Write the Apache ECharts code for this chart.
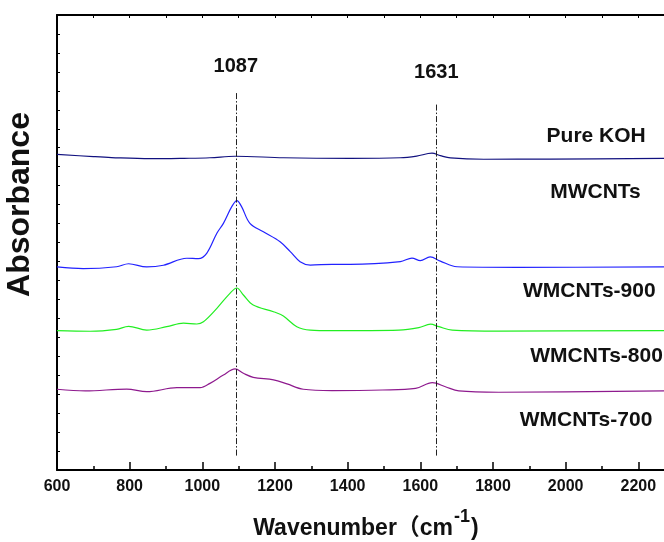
<!DOCTYPE html>
<html>
<head>
<meta charset="utf-8">
<script src="https://cdn.jsdelivr.net/npm/echarts@6/dist/echarts.min.js"></script>
<style>
html,body{margin:0;padding:0;background:#fff;}
#chart{width:664px;height:542px;}
</style>
</head>
<body>
<div id="chart"></div>
<script>
// ---- data ----
var seriesNames = ['Pure KOH', 'MWCNTs', 'WMCNTs-900', 'WMCNTs-800'];

var kohX = [600, 700, 750, 856, 950, 1021, 1090, 1224, 1407, 1545, 1590, 1632, 1655, 1683, 1775, 1958, 2280];
var kohY = [16.65, 16.53, 16.48, 16.42, 16.44, 16.47, 16.55, 16.47, 16.44, 16.47, 16.56, 16.71, 16.58, 16.46, 16.39, 16.40, 16.44];

var mwX = [600, 672, 764, 797, 847, 893, 957, 989, 1012, 1040, 1058, 1081, 1095, 1108, 1131, 1168, 1214, 1242, 1269, 1297, 1357, 1407, 1545, 1577, 1600, 1627, 1655, 1701, 1866, 2280];
var mwY = [10.71, 10.62, 10.72, 10.88, 10.71, 10.80, 11.17, 11.15, 11.43, 12.49, 13.01, 13.89, 14.21, 13.89, 13.01, 12.57, 12.04, 11.52, 10.99, 10.81, 10.85, 10.85, 10.99, 11.18, 11.04, 11.24, 11.02, 10.72, 10.69, 10.71];

var w900X = [600, 691, 764, 797, 847, 902, 948, 985, 1003, 1040, 1076, 1095, 1113, 1140, 1196, 1223, 1260, 1297, 1357, 1541, 1596, 1628, 1651, 1688, 1816, 2280];
var w900Y = [7.35, 7.32, 7.42, 7.58, 7.38, 7.56, 7.75, 7.70, 7.82, 8.53, 9.32, 9.60, 9.23, 8.70, 8.35, 8.12, 7.56, 7.38, 7.35, 7.38, 7.51, 7.69, 7.56, 7.38, 7.33, 7.35];

var w800X = [600, 678, 792, 847, 930, 994, 1021, 1058, 1090, 1113, 1140, 1196, 1233, 1278, 1357, 1495, 1587, 1633, 1669, 1706, 1816, 2280];
var w800Y = [4.26, 4.17, 4.27, 4.13, 4.34, 4.34, 4.57, 5.01, 5.33, 5.10, 4.89, 4.75, 4.54, 4.26, 4.19, 4.22, 4.31, 4.61, 4.39, 4.17, 4.10, 4.18];

// curve labels: text, x (wavenumber), y (absorbance units)
var curveLabels = ['Pure KOH', 'MWCNTs', 'WMCNTs-900', 'WMCNTs-800', 'WMCNTs-700'];
var curveLabelX = [2084, 2082, 2065, 2085, 2056];
var curveLabelY = [17.62, 14.64, 9.42, 6.01, 2.61];

// peak reference lines
var peakLineX = [1092, 1644];
var peakLabels = ['1087', '1631'];
var peakLineTop = [19.89, 19.36];
var peakLineBottom = [0.76, 0.76];
var peakLabelY = [21.31, 20.99];

var xTicks = [600, 800, 1000, 1200, 1400, 1600, 1800, 2000, 2200];

// ---- chart ----
function zip(xs, ys) { return xs.map(function (x, i) { return [x, ys[i]]; }); }

var colors = ['#11117f', '#2222ff', '#22ee22', '#8e1a8e'];
var xsAll = [kohX, mwX, w900X, w800X];
var ysAll = [kohY, mwY, w900Y, w800Y];

var series = seriesNames.map(function (n, i) {
  return {
    name: n, type: 'line', data: zip(xsAll[i], ysAll[i]),
    smooth: 0.35, showSymbol: false, symbol: 'none',
    lineStyle: { color: colors[i], width: 1.2 },
    xAxisIndex: 0, yAxisIndex: 0, z: 3
  };
});

var labelFont = { fontFamily: 'Liberation Sans, Arial, sans-serif', fontWeight: 'bold', color: '#111' };

series.push({
  name: 'annotations', type: 'scatter', data: [], symbolSize: 0,
  xAxisIndex: 0, yAxisIndex: 0,
  markLine: {
    silent: true, symbol: ['none', 'none'],
    lineStyle: { color: '#222', width: 1, type: [6, 2, 1.5, 2] },
    label: { show: false },
    data: peakLineX.map(function (x, i) {
      return [{ coord: [x, peakLineBottom[i]] }, { coord: [x, peakLineTop[i]] }];
    })
  },
  markPoint: {
    silent: true, symbol: 'circle', symbolSize: 0,
    data: peakLabels.map(function (t, i) {
      return { coord: [peakLineX[i], peakLabelY[i]], value: t,
        label: Object.assign({ show: true, formatter: t, fontSize: 20, position: 'inside' }, labelFont) };
    }).concat(curveLabels.map(function (t, i) {
      return { coord: [curveLabelX[i], curveLabelY[i]], value: t,
        label: Object.assign({ show: true, formatter: t, fontSize: 21, position: 'inside' }, labelFont) };
    }))
  }
});

var chart = echarts.init(document.getElementById('chart'), null, { renderer: 'canvas' });
chart.setOption({
  animation: false,
  backgroundColor: '#ffffff',
  grid: { left: 57, top: 15, bottom: 72, right: -47, containLabel: false, outerBoundsMode: 'none' },
  xAxis: [{
    type: 'value', position: 'bottom', min: 600, max: 2400, interval: 200,
    axisLine: { show: true, onZero: false, lineStyle: { color: '#000', width: 2 } },
    axisTick: { show: true, inside: true, length: 8, lineStyle: { color: '#000', width: 1.5 } },
    minorTick: { show: true, splitNumber: 2, length: 4, lineStyle: { color: '#000', width: 1.5 } },
    splitLine: { show: false },
    axisLabel: { show: true, margin: 9, fontSize: 16, fontWeight: 'bold', color: '#111',
      fontFamily: 'Liberation Sans, Arial, sans-serif',
      formatter: function (v) { return xTicks.indexOf(v) >= 0 ? String(v) : ''; } },
    name: '{a|Wavenumber（cm}{s|-1}{a|)}',
    nameLocation: 'middle', nameGap: 38,
    nameTextStyle: {
      padding: [0, 36, 0, 0],
      rich: {
        a: { fontSize: 23, fontWeight: 'bold', color: '#111', fontFamily: 'Liberation Sans, Noto Sans CJK SC, sans-serif', verticalAlign: 'bottom' },
        s: { fontSize: 18, fontWeight: 'bold', color: '#111', fontFamily: 'Liberation Sans, sans-serif', verticalAlign: 'top', padding: [0, 1, 14, 1] }
      }
    }
  }, {
    type: 'value', position: 'top', min: 600, max: 2400, interval: 100,
    axisLine: { show: true, onZero: false, lineStyle: { color: '#000', width: 2 } },
    axisTick: { show: true, inside: true, length: 3, lineStyle: { color: '#000', width: 1 } },
    axisLabel: { show: false }, splitLine: { show: false }
  }],
  yAxis: [{
    type: 'value', min: 0, max: 24, interval: 1,
    axisLine: { show: true, onZero: false, lineStyle: { color: '#000', width: 2 } },
    axisTick: { show: true, inside: true, length: 3, lineStyle: { color: '#000', width: 1 } },
    axisLabel: { show: false }, splitLine: { show: false },
    name: 'Absorbance', nameLocation: 'middle', nameGap: 21, nameRotate: 90,
    nameTextStyle: { fontSize: 32, fontWeight: 'bold', color: '#111',
      fontFamily: 'Liberation Sans, Arial, sans-serif', padding: [0, 0, 0, 76] }
  }],
  series: series
});
</script>
</body>
</html>
